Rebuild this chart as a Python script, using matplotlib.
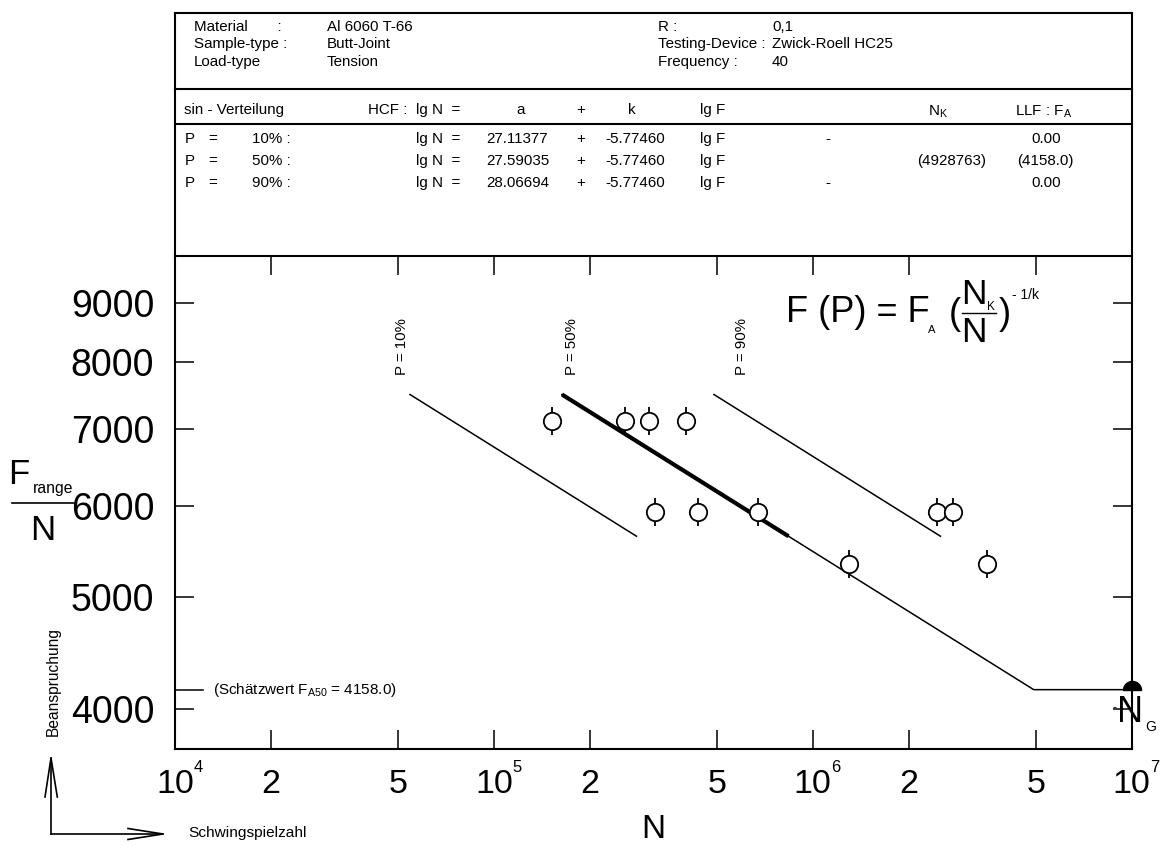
import numpy as np
import matplotlib
matplotlib.use("Agg")
import matplotlib.pyplot as plt
from matplotlib.ticker import NullLocator, NullFormatter
from matplotlib.transforms import blended_transform_factory

plt.rcParams['font.family'] = ['Liberation Sans', 'DejaVu Sans']
plt.rcParams['mathtext.fontset'] = 'custom'
plt.rcParams['mathtext.rm'] = 'Liberation Sans'
plt.rcParams['mathtext.it'] = 'Liberation Sans:italic'
plt.rcParams['mathtext.bf'] = 'Liberation Sans:bold'

# ---------------- data ----------------
N_pts = [1.52e5, 2.58e5, 3.06e5, 4.00e5, 3.19e5, 4.36e5, 6.73e5,
         1.30e6, 2.45e6, 2.76e6, 3.53e6]
F_pts = [7120, 7120, 7120, 7120, 5935, 5935, 5935,
         5345, 5935, 5935, 5345]
P_levels = [10, 50, 90]
a_vals = [27.11377, 27.59035, 28.06694]
k_val = -5.77460
NK_labels = ["-", "(4928763)", "-"]
FA_labels = ["0.00", "(4158.0)", "0.00"]
N_K = 4928763
F_A50 = 4158.0
F_line = [7500, 5650]
x_ticks = [1e4, 2e4, 5e4, 1e5, 2e5, 5e5, 1e6, 2e6, 5e6, 1e7]
x_tick_labels = ["10|4", "2", "5", "10|5", "2", "5", "10|6", "2", "5", "10|7"]
y_ticks = [4000, 5000, 6000, 7000, 8000, 9000]
info_keys = ["Material       :", "Sample-type :", "Load-type"]
info_vals = ["Al 6060 T-66", "Butt-Joint", "Tension"]
info_keys2 = ["R :", "Testing-Device :", "Frequency :"]
info_vals2 = ["0,1", "Zwick-Roell HC25", "40"]

# ---------------- figure ----------------
W, H = 1162, 846
fig = plt.figure(figsize=(W / 100, H / 100), dpi=100)


def fr(x0, y0, x1, y1):
    return [x0 / W, 1 - y1 / H, (x1 - x0) / W, (y1 - y0) / H]


AX_L, AX_T, AX_R, AX_B = 175, 255.7, 1131.7, 749
ax = fig.add_axes(fr(AX_L, AX_T, AX_R, AX_B))
ax.set_xscale('log')
ax.set_yscale('log')
ax.set_xlim(1e4, 1e7)
ax.set_ylim(3693, 9898)
for s in ax.spines.values():
    s.set_linewidth(1.5)

ax.set_xticks(x_ticks)
ax.xaxis.set_minor_locator(NullLocator())
ax.xaxis.set_minor_formatter(NullFormatter())
ax.tick_params(axis='x', which='major', direction='in', length=13.5, width=1.1,
               top=True, bottom=True, labelbottom=False)
ax.set_yticks(y_ticks, labels=[str(v) for v in y_ticks])
ax.yaxis.set_minor_locator(NullLocator())
ax.yaxis.set_minor_formatter(NullFormatter())
ax.tick_params(axis='y', which='major', direction='in', length=13.5, width=1.1,
               left=True, right=True, labelsize=27, pad=15)

# S-N lines
Fl = np.array(F_line, dtype=float)
for a in a_vals:
    ax.plot(10 ** (a + k_val * np.log10(Fl)), Fl, color='k', lw=1.1, zorder=3)
a50 = a_vals[1]
N50 = 10 ** (a50 + k_val * np.log10(Fl))
ax.plot(N50, Fl, color='k', lw=3.0, zorder=3, solid_capstyle='butt')
ax.plot([N50[-1], N_K, 1e7], [Fl[-1], F_A50, F_A50], color='k', lw=1.1, zorder=3)
ax.plot([1e4, 1.224e4], [F_A50, F_A50], color='k', lw=1.1, clip_on=False)

# data points
ax.plot(N_pts, F_pts, ls='none', marker='|', ms=19.5, mew=1.3, color='k', zorder=4)
ax.plot(N_pts, F_pts, ls='none', marker='o', ms=12.5, mfc='white', mec='k',
        mew=1.3, zorder=5)

# N_G marker (half disc)
th = np.linspace(0, np.pi, 40)
verts = [(np.cos(t), np.sin(t)) for t in th] + [(1.0, 0.0)]
ax.plot([1e7], [F_A50], ls='none', marker=verts, ms=13, color='k', mec='k',
        clip_on=False, zorder=6)

# ---------------- overlay in pixel coordinates ----------------
ov = fig.add_axes([0, 0, 1, 1], zorder=3)
ov.set_xlim(0, W)
ov.set_ylim(H, 0)
ov.axis('off')
ov.patch.set_visible(False)

lw_box = 1.5
# header box
ov.plot([AX_L, AX_R], [13.3, 13.3], color='k', lw=lw_box)
ov.plot([AX_L, AX_L], [13.3, AX_T], color='k', lw=lw_box)
ov.plot([AX_R, AX_R], [13.3, AX_T], color='k', lw=lw_box)
ov.plot([AX_L, AX_R], [89.3, 89.3], color='k', lw=lw_box)
ov.plot([AX_L, AX_R], [124.3, 124.3], color='k', lw=lw_box)

fs_h = 10.9
rows = [26.7, 44.3, 62.0]
for i, y in enumerate(rows):
    ov.text(194, y, info_keys[i], fontsize=fs_h, va='center', ha='left')
    ov.text(326.7, y, info_vals[i], fontsize=fs_h, va='center', ha='left')
    ov.text(658, y, info_keys2[i], fontsize=fs_h, va='center', ha='left')
    ov.text(772, y, info_vals2[i], fontsize=fs_h, va='center', ha='left')

yh = 110
ov.text(184, yh, "sin - Verteilung", fontsize=fs_h, va='center', ha='left')
ov.text(367.7, yh, "HCF :", fontsize=fs_h, va='center', ha='left')
ov.text(415.7, yh, "lg N  =", fontsize=fs_h, va='center', ha='left')
ov.text(520.7, yh, "a", fontsize=fs_h, va='center', ha='center')
ov.text(580.7, yh, "+", fontsize=fs_h, va='center', ha='center')
ov.text(632.3, yh, "k", fontsize=fs_h, va='center', ha='center')
ov.text(700, yh, "lg F", fontsize=fs_h, va='center', ha='left')
ov.text(938, yh + 2, r"N$_{\mathrm{K}}$", fontsize=fs_h, va='center', ha='center')
ov.text(1015, yh + 2, r"LLF : F$_{\mathrm{A}}$", fontsize=fs_h, va='center', ha='left')

drow = [139.3, 161.3, 182.7]
for i, y in enumerate(drow):
    ov.text(184.3, y, "P", fontsize=fs_h, va='center', ha='left')
    ov.text(213, y, "=", fontsize=fs_h, va='center', ha='center')
    ov.text(251.7, y, f"{P_levels[i]}% :", fontsize=fs_h, va='center', ha='left')
    ov.text(415.7, y, "lg N  =", fontsize=fs_h, va='center', ha='left')
    ov.text(486.7, y, f"{a_vals[i]:.5f}", fontsize=fs_h, va='center', ha='left')
    ov.text(580.7, y, "+", fontsize=fs_h, va='center', ha='center')
    ov.text(605, y, f"{k_val:.5f}", fontsize=fs_h, va='center', ha='left')
    ov.text(700, y, "lg F", fontsize=fs_h, va='center', ha='left')
    if NK_labels[i] == "-":
        ov.text(828.3, y, "-", fontsize=fs_h, va='center', ha='center')
    else:
        ov.text(916.7, y, NK_labels[i], fontsize=fs_h, va='center', ha='left')
    xfa = 1031.7 if FA_labels[i] == "0.00" else 1016.7
    ov.text(xfa, y, FA_labels[i], fontsize=fs_h, va='center', ha='left')

# x tick labels
tr = blended_transform_factory(ax.transData, ov.transData)
for xv, lab in zip(x_ticks, x_tick_labels):
    if "|" in lab:
        base, ex = lab.split("|")
        ax.text(xv, 784.5, base, transform=tr, fontsize=24.5, ha='center',
                va='center', clip_on=False)
        ax.text(xv * 10 ** (18.5 / 318.8), 767, ex, transform=tr, fontsize=12,
                ha='left', va='center', clip_on=False)
    else:
        ax.text(xv, 784.5, lab, transform=tr, fontsize=24.5, ha='center',
                va='center', clip_on=False)

ov.text(653, 829, "N", fontsize=24, ha='center', va='center')

# P labels
for xp, p in zip([401.7, 571.7, 741.7], P_levels):
    ov.text(xp, 375, f"P = {p}%", fontsize=10.8, rotation=90, ha='center',
            va='bottom')

# formula
ov.text(786, 313, "F (P) = F", fontsize=26, ha='left', va='center')
ov.text(928, 330, "A", fontsize=8, ha='left', va='center')
ov.text(949, 315, "(", fontsize=26, ha='left', va='center')
ov.text(974, 294, "N", fontsize=25.5, ha='center', va='center')
ov.text(987.5, 306.5, "K", fontsize=8.5, ha='left', va='center')
ov.plot([962, 996], [313.5, 313.5], color='k', lw=1.0)
ov.text(974, 332, "N", fontsize=25.5, ha='center', va='center')
ov.text(998.5, 315, ")", fontsize=26, ha='left', va='center')
ov.text(1011.5, 295, "- 1/k", fontsize=10, ha='left', va='center')

# left label F_range / N
ov.text(19, 475, "F", fontsize=25, ha='center', va='center')
ov.text(53.3, 489, "range", fontsize=11.3, ha='center', va='center')
ov.plot([12, 75], [503, 503], color='k', lw=1.2)
ov.text(42.5, 530, "N", fontsize=25, ha='center', va='center')

ov.text(53.5, 682, "Beanspruchung", fontsize=11.2, rotation=90, ha='center',
        va='center')
ov.text(188, 833, "Schwingspielzahl", fontsize=11.1, ha='left', va='center')

# axis arrows
ov.plot([51, 51], [834, 758], color='k', lw=1.2)
ov.plot([45, 51, 57.3], [797, 758, 797], color='k', lw=1.2)
ov.plot([51, 163], [834, 834], color='k', lw=1.2)
ov.plot([128, 163, 128], [828.5, 834, 839.5], color='k', lw=1.2)

# Schaetzwert
ov.text(213, 690, r"(Schätzwert F$_{\mathrm{A50}}$ = 4158.0)", fontsize=11,
        ha='left', va='center')

# N_G label
ov.text(1114.5, 708, "-", fontsize=9, ha='center', va='center')
ov.text(1130.5, 713, "N", fontsize=26, ha='center', va='center')
ov.text(1150.5, 727, "G", fontsize=10, ha='center', va='center')

fig.savefig("out.png", dpi=100)
